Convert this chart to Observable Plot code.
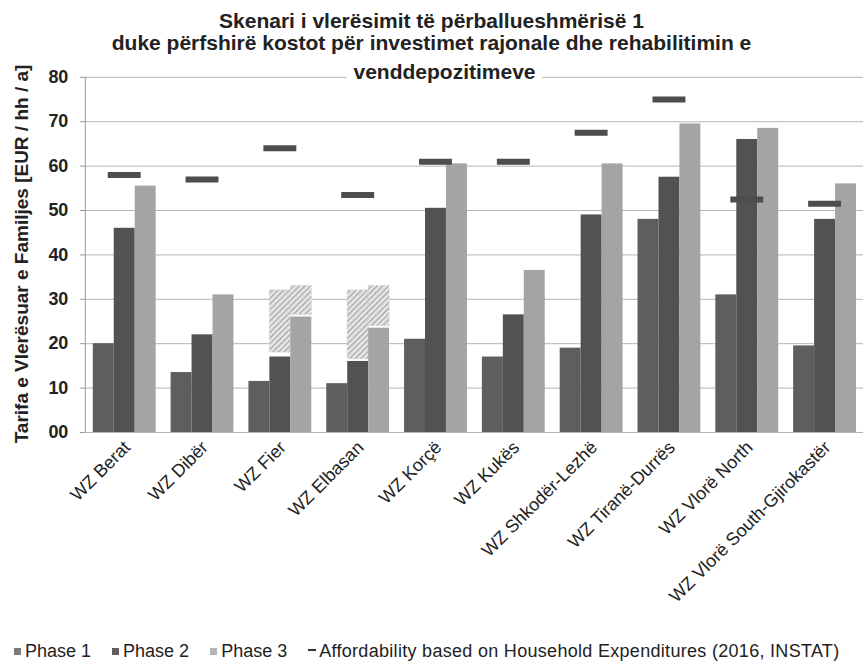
<!DOCTYPE html>
<html><head><meta charset="utf-8">
<script src="https://cdn.jsdelivr.net/npm/d3@7"></script>
<script src="https://cdn.jsdelivr.net/npm/@observablehq/plot@0.6"></script>
<style>
html,body{margin:0;padding:0;background:#fff;overflow:hidden;width:863px;height:664px;font-family:"Liberation Sans",Arial,sans-serif}
#wrap{position:relative;width:863px;height:664px;overflow:hidden}
#chart{position:absolute;left:0;top:0}
.tl{position:absolute;left:0;width:863px;text-align:center;font-weight:bold;font-size:21px;line-height:21px;color:#222;white-space:nowrap}
.tl span{background:#fff;padding:0 6px}
#ylabel{position:absolute;left:22px;top:254px;transform:translate(-50%,-50%) rotate(-90deg);white-space:nowrap;font-weight:bold;font-size:19px;color:#222}
#legend{position:absolute;left:14px;top:641px;white-space:nowrap;font-size:18px;line-height:20px;color:#222}
#legend .sw{display:inline-block;width:7px;height:7px;margin-right:4px;vertical-align:2px}
#legend .item{margin-right:21px}
#legend .item.last{letter-spacing:0.3px;margin-right:0}
#legend .dash{display:inline-block;width:8px;height:2px;background:#333;margin-right:3px;vertical-align:6px}
</style></head><body>
<svg width="0" height="0" style="position:absolute"><defs>
<pattern id="hatch" patternUnits="userSpaceOnUse" width="4" height="4" patternTransform="rotate(45)">
<rect width="4" height="4" fill="#e3e3e3"/><line x1="0" y1="0" x2="0" y2="4" stroke="#8a8a8a" stroke-width="1.5"/>
</pattern></defs></svg>
<div id="wrap">
<div id="chart"></div>
<div class="tl" style="top:10px">Skenari i vlerësimit të përballueshmërisë 1</div>
<div class="tl" style="top:32px">duke përfshirë kostot për investimet rajonale dhe rehabilitimin e</div>
<div class="tl" style="top:61px;left:13px"><span>venddepozitimeve</span></div>
<div id="ylabel">Tarifa e Vlerësuar e Familjes [EUR / hh / a]</div>
<div id="legend"></div>
</div>
<script>
const groups = ["WZ Berat","WZ Dibër","WZ Fier","WZ Elbasan","WZ Korçë","WZ Kukës","WZ Shkodër-Lezhë","WZ Tiranë-Durrës","WZ Vlorë North","WZ Vlorë South-Gjirokastër"];
const phases = ["Phase 1","Phase 2","Phase 3"];
const phase1 = [20, 13.5, 11.5, 11, 21, 17, 19, 48, 31, 19.5];
const phase2 = [46, 22, 17, 16, 50.5, 26.5, 49, 57.5, 66, 48];
const phase3 = [55.5, 31, 26, 23.5, 60.5, 36.5, 60.5, 69.5, 68.5, 56];
const affordability = [58, 57, 64, 53.5, 61, 61, 67.5, 75, 52.5, 51.5];
const hatchGroups = ["WZ Fier","WZ Fier","WZ Elbasan","WZ Elbasan"];
const hatchPhases = ["Phase 2","Phase 3","Phase 2","Phase 3"];
const hatchLow = [18, 26.5, 16.5, 24];
const hatchHigh = [32, 33, 32, 33];
const yTicks = [0,10,20,30,40,50,60,70,80];
const yTickLabels = ["00","10","20","30","40","50","60","70","80"];
const legendLabels = ["Phase 1","Phase 2","Phase 3","Affordability based on Household Expenditures (2016, INSTAT)"];
const phaseColors = ["#5e5e5e","#525252","#a4a4a4"];
const legendSwatch = ["#7c7c7c","#5e5e5e","#b4b4b4"];

const series = [phase1, phase2, phase3];
const bars = groups.flatMap((g,i) => phases.map((p,j) => ({group:g, phase:p, value:series[j][i]})));
const aff = groups.map((g,i) => ({group:g, value:affordability[i]}));
const hatch = hatchGroups.map((g,i) => ({group:g, phase:hatchPhases[i], low:hatchLow[i], high:hatchHigh[i]}));

const chart = Plot.plot({
  width: 865, height: 640,
  marginLeft: 85, marginRight: 0, marginTop: 77, marginBottom: 207,
  style: {fontFamily: "'Liberation Sans', Arial, sans-serif", background: "transparent"},
  fx: {domain: groups, padding: 0, axis: null},
  x: {domain: phases, paddingInner: 0, paddingOuter: 0.273, axis: null},
  y: {domain: [0, 80], axis: null},
  color: {domain: phases, range: phaseColors},
  marks: [
    Plot.ruleY(yTicks, {stroke: "#b4b4b4", strokeWidth: 1}),
    Plot.barY(hatch, {fx: "group", x: "phase", y1: "low", y2: "high", fill: "url(#hatch)", stroke: "#c8c8c8", strokeDasharray: "2,2", strokeWidth: 0.8}),
    Plot.barY(bars, {fx: "group", x: "phase", y: "value", fill: "phase"}),
    Plot.tickY(aff, {fx: "group", x: () => "Phase 2", y: "value", stroke: "#4d4d4d", strokeWidth: 6, insetLeft: -6, insetRight: -6}),
    Plot.axisY({ticks: yTicks, tickFormat: d => yTickLabels[yTicks.indexOf(d)], tickSize: 5, tickPadding: 12, label: null, fontSize: 18, fontWeight: "bold", stroke: "#999", color: "#222"}),
    Plot.frame({anchor: "left", facet: "super", stroke: "#999"}),
    Plot.axisFx({anchor: "bottom", tickRotate: -45, tickSize: 0, tickPadding: 12, dx: 3, label: null, fontSize: 18, color: "#222"})
  ]
});
document.getElementById("chart").appendChild(chart);

const lg = document.getElementById("legend");
legendLabels.forEach((t,i) => {
  const s = document.createElement("span");
  s.className = i < 3 ? "item" : "item last";
  if (i < 3) s.innerHTML = `<span class="sw" style="background:${legendSwatch[i]}"></span>${t}`;
  else s.innerHTML = `<span class="dash"></span>${t}`;
  lg.appendChild(s);
});
</script>
</body></html>
